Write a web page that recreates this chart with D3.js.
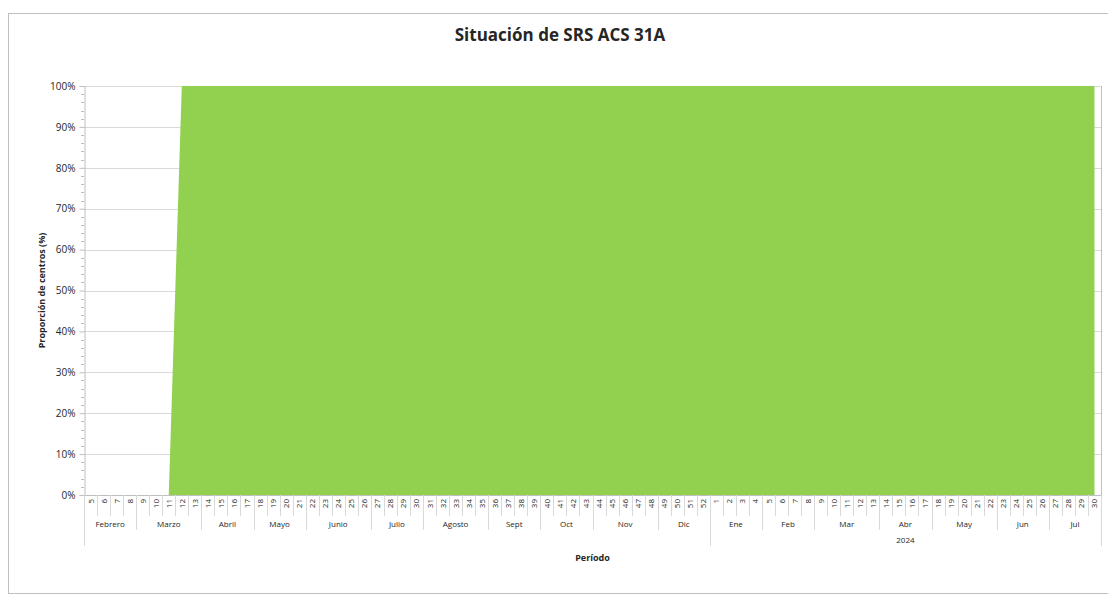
<!DOCTYPE html>
<html>
<head>
<meta charset="utf-8">
<script src="https://cdn.jsdelivr.net/npm/d3@7"></script>
<style>
  body { margin: 0; background: #fff; }
  svg text { font-family: "Open Sans", "Noto Sans", sans-serif; fill: #262626; }
</style>
</head>
<body>
<div id="chart"></div>
<script>
// semanas (2023: 5-52, 2024: 1-30)
const weeks = [5,6,7,8,9,10,11,12,13,14,15,16,17,18,19,20,21,22,23,24,25,26,27,28,29,30,
  31,32,33,34,35,36,37,38,39,40,41,42,43,44,45,46,47,48,49,50,51,52,
  1,2,3,4,5,6,7,8,9,10,11,12,13,14,15,16,17,18,19,20,21,22,23,24,25,26,27,28,29,30];
const values = [0,0,0,0,0,0,0,100,100,100,100,100,100,100,100,100,100,100,100,100,100,100,100,100,100,100,
  100,100,100,100,100,100,100,100,100,100,100,100,100,100,100,100,100,100,100,100,100,100,
  100,100,100,100,100,100,100,100,100,100,100,100,100,100,100,100,100,100,100,100,100,100,100,100,100,100,100,100,100,100];
const months = ["Febrero","Marzo","Abril","Mayo","Junio","Julio","Agosto","Sept","Oct","Nov","Dic",
  "Ene","Feb","Mar","Abr","May","Jun","Jul"];
const monthWeeks = [4,5,4,4,5,4,5,4,4,5,4, 4,4,5,4,5,4,4];
const years = ["", "2024"];
const yearWeeks = [48, 30];
const yTicks = [0,10,20,30,40,50,60,70,80,90,100];

const width = 1108, height = 601;
const mLeft = 84, mRight = 1101, mTop = 86, mBottom = 495;

const svg = d3.select("#chart").append("svg")
  .attr("width", width).attr("height", height);

// marco del gráfico
svg.append("rect")
  .attr("x", 8.5).attr("y", 13.5)
  .attr("width", 1120).attr("height", 580)
  .attr("fill", "none").attr("stroke", "#bfbfbf");

const x = d3.scaleBand().domain(d3.range(weeks.length)).range([mLeft, mRight]).padding(0);
const y = d3.scaleLinear().domain([0, 100]).range([mBottom, mTop]);
const bw = x.bandwidth();

// rejilla
svg.append("g").selectAll("line")
  .data(yTicks)
  .join("line")
  .attr("x1", mLeft).attr("x2", mRight)
  .attr("y1", d => Math.round(y(d)) + 0.5).attr("y2", d => Math.round(y(d)) + 0.5)
  .attr("stroke", "#d9d9d9");

// área
const area = d3.area()
  .x((d, i) => x(i) + bw / 2)
  .y0(y(0))
  .y1(d => y(d));

svg.append("path")
  .datum(values)
  .attr("d", area)
  .attr("fill", "#92d050");

// borde derecho
svg.append("line")
  .attr("x1", mRight + 0.5).attr("x2", mRight + 0.5)
  .attr("y1", mTop).attr("y2", mBottom)
  .attr("stroke", "#bfbfbf");

// eje y
const yAxis = d3.axisLeft(y)
  .tickValues(yTicks)
  .tickFormat(d => d + "%")
  .tickSize(5)
  .tickPadding(4);
const gy = svg.append("g").attr("transform", `translate(${mLeft + 0.5},0)`).call(yAxis);
gy.select(".domain").attr("stroke", "#bfbfbf");
gy.selectAll(".tick line").attr("stroke", "#bfbfbf");
gy.selectAll("text").style("font-size", "10px").style("fill", "#262626");

// marcas menores
svg.append("g").selectAll("line")
  .data(d3.range(0, 101, 2).filter(d => d % 10 !== 0))
  .join("line")
  .attr("x1", mLeft - 3).attr("x2", mLeft)
  .attr("y1", d => Math.round(y(d)) + 0.5).attr("y2", d => Math.round(y(d)) + 0.5)
  .attr("stroke", "#bfbfbf");

// eje x
const gx = svg.append("g");
gx.append("line")
  .attr("x1", mLeft).attr("x2", mRight)
  .attr("y1", mBottom + 0.5).attr("y2", mBottom + 0.5)
  .attr("stroke", "#bfbfbf");

const row1 = mBottom + 21, row2 = mBottom + 35, row3 = mBottom + 51;
const edge = i => (i < weeks.length ? x(i) : mRight);

// separadores de semana
gx.selectAll(".wk")
  .data(d3.range(weeks.length + 1))
  .join("line")
  .attr("class", "wk")
  .attr("x1", i => Math.round(edge(i)) + 0.5)
  .attr("x2", i => Math.round(edge(i)) + 0.5)
  .attr("y1", mBottom).attr("y2", row1)
  .attr("stroke", "#d9d9d9");

gx.selectAll(".wklab")
  .data(weeks)
  .join("text")
  .attr("class", "wklab")
  .attr("transform", (d, i) => `translate(${x(i) + bw / 2 + 3},${mBottom + 4}) rotate(-90)`)
  .attr("text-anchor", "end")
  .style("font-size", "8px")
  .text(d => d);

// meses
const monthStart = monthWeeks.map((d, i) => d3.sum(monthWeeks.slice(0, i)));

gx.selectAll(".mline")
  .data(monthStart.concat([weeks.length]))
  .join("line")
  .attr("class", "mline")
  .attr("x1", i => Math.round(edge(i)) + 0.5).attr("x2", i => Math.round(edge(i)) + 0.5)
  .attr("y1", mBottom).attr("y2", row2)
  .attr("stroke", "#d9d9d9");

gx.selectAll(".mlab")
  .data(months)
  .join("text")
  .attr("class", "mlab")
  .attr("x", (d, i) => (edge(monthStart[i]) + edge(monthStart[i] + monthWeeks[i])) / 2)
  .attr("y", mBottom + 32)
  .attr("text-anchor", "middle")
  .style("font-size", "8px")
  .text(d => d);

// años
const yearStart = yearWeeks.map((d, i) => d3.sum(yearWeeks.slice(0, i)));
gx.selectAll(".yline")
  .data(yearStart.concat([weeks.length]))
  .join("line")
  .attr("class", "yline")
  .attr("x1", i => Math.round(edge(i)) + 0.5).attr("x2", i => Math.round(edge(i)) + 0.5)
  .attr("y1", mBottom).attr("y2", row3)
  .attr("stroke", "#d9d9d9");

gx.selectAll(".ylab")
  .data(years)
  .join("text")
  .attr("class", "ylab")
  .attr("x", (d, i) => (edge(yearStart[i]) + edge(yearStart[i] + yearWeeks[i])) / 2)
  .attr("y", mBottom + 48)
  .attr("text-anchor", "middle")
  .style("font-size", "8px")
  .text(d => d);

// títulos
svg.append("text")
  .attr("x", 560).attr("y", 41)
  .attr("text-anchor", "middle")
  .style("font-size", "17px").style("font-weight", "bold")
  .text("Situación de SRS ACS 31A");

svg.append("text")
  .attr("x", (mLeft + mRight) / 2).attr("y", 561)
  .attr("text-anchor", "middle")
  .style("font-size", "9px").style("font-weight", "bold")
  .text("Período");

svg.append("text")
  .attr("transform", `translate(45,${(mTop + mBottom) / 2}) rotate(-90)`)
  .attr("text-anchor", "middle")
  .style("font-size", "9px").style("font-weight", "bold")
  .text("Proporción de centros (%)");
</script>
</body>
</html>
